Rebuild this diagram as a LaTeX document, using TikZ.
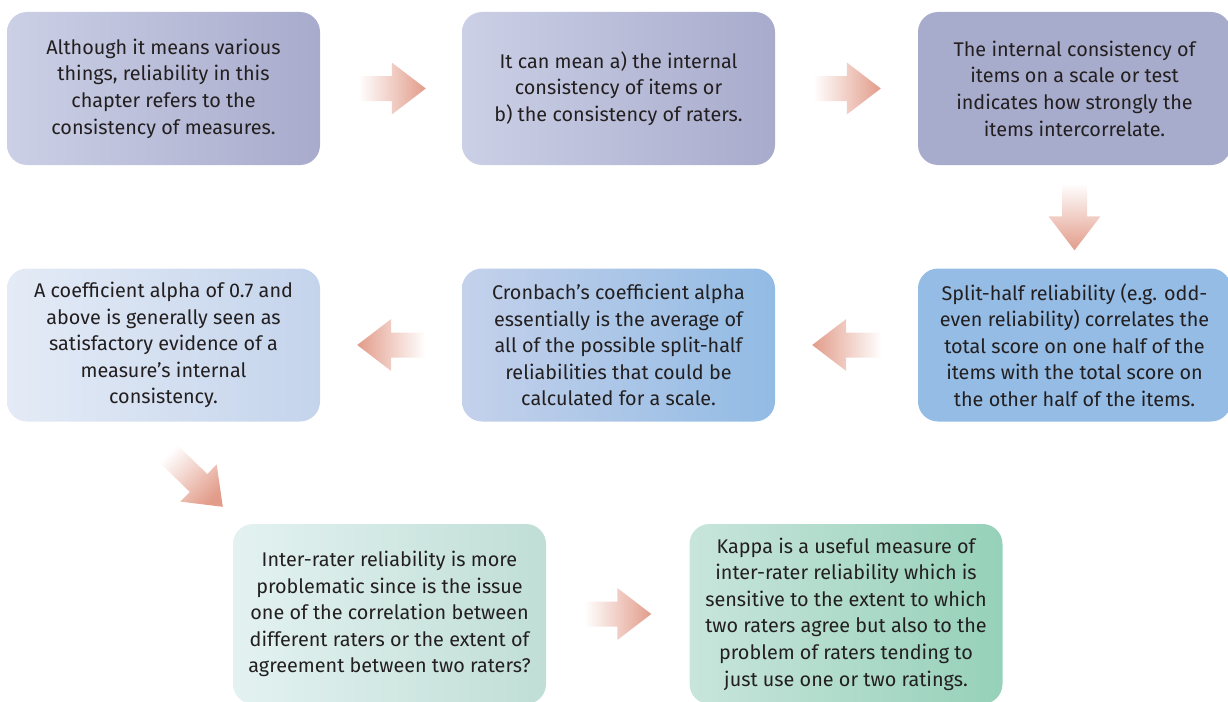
\documentclass[tikz,border=0pt]{standalone}
\usepackage{fontspec}
\setmainfont{Fira Sans}
\usetikzlibrary{calc}

\definecolor{txt}{HTML}{231F20}
\definecolor{arr}{HTML}{E29C8A}
\definecolor{violA}{HTML}{CBD0E6}
\definecolor{violB}{HTML}{A8ABCC}
\definecolor{violC}{HTML}{A8ACCC}
\definecolor{paleA}{HTML}{E4EBF6}
\definecolor{paleB}{HTML}{C4D4EC}
\definecolor{skyA}{HTML}{C4D1EB}
\definecolor{skyB}{HTML}{92BBE4}
\definecolor{skyC}{HTML}{94BCE5}
\definecolor{mintA}{HTML}{E3F2F1}
\definecolor{mintB}{HTML}{C0DED6}
\definecolor{jadeA}{HTML}{C8E5DC}
\definecolor{jadeB}{HTML}{96D1B9}

\tikzset{
  infobox/.style={rounded corners=20pt, inner sep=0pt, align=center,
    minimum width=313pt, minimum height=153pt, text=txt,
    font=\fontsize{19.8}{26.6}\selectfont},
  tallbox/.style={infobox, minimum height=180pt},
  arrR/.style={left color=white, right color=arr},
  arrL/.style={left color=arr, right color=white},
  arrD/.style={top color=white, bottom color=arr},
  arrDiag/.style={top color=white, bottom color=arr, shading angle=45},
}

% block arrow from tail #2 to tip #3, shading given by #1
\newcommand\blockarrow[3]{%
  \coordinate (hb) at ($(#3)!34pt!(#2)$);
  \path[#1] ($(#2)!12.5pt!90:(#3)$) -- ($(hb)!12.5pt!90:(#3)$)
    -- ($(hb)!26pt!90:(#3)$) -- (#3) -- ($(hb)!26pt!-90:(#3)$)
    -- ($(hb)!12.5pt!-90:(#3)$) -- ($(#2)!12.5pt!-90:(#3)$) -- cycle;
}

\begin{document}
\begin{tikzpicture}[x=1pt, y=1pt]
\useasboundingbox (0,0) rectangle (1228,-701);

% first row
\node[infobox, left color=violA, right color=violB] (b1) at (163.5,-88.5)
  {Although it means various\\things, reliability in this\\chapter refers to the\\consistency of measures.};
\node[infobox, left color=violA, right color=violB] (b2) at (618.5,-88.5)
  {It can mean a) the internal\\consistency of items or\\b) the consistency of raters.};
\node[infobox, fill=violC] (b3) at (1074.5,-88.5)
  {The internal consistency of\\items on a scale or test\\indicates how strongly the\\items intercorrelate.};

% second row
\node[infobox, left color=paleA, right color=paleB] (b4) at (163.5,-345)
  {A coefficient alpha of 0.7 and\\above is generally seen as\\satisfactory evidence of a\\measure’s internal\\consistency.};
\node[infobox, left color=skyA, right color=skyB] (b5) at (618.5,-345)
  {Cronbach’s coefficient alpha\\essentially is the average of\\all of the possible split-half\\reliabilities that could be\\calculated for a scale.};
\node[infobox, fill=skyC] (b6) at (1074.5,-345)
  {Split-half reliability (e.g. odd-\\even reliability) correlates the\\total score on one half of the\\items with the total score on\\the other half of the items.};

% third row
\node[tallbox, left color=mintA, right color=mintB] (b7) at (389.5,-614)
  {Inter-rater reliability is more\\problematic since is the issue\\one of the correlation between\\different raters or the extent of\\agreement between two raters?};
\node[tallbox, left color=jadeA, right color=jadeB] (b8) at (846,-614)
  {Kappa is a useful measure of\\inter-rater reliability which is\\sensitive to the extent to which\\two raters agree but also to the\\problem of raters tending to\\just use one or two ratings.};

% connectors
\coordinate (t1) at ($(b1.east)+(38,0)$);  \coordinate (p1) at ($(b2.west)+(-36,0)$);
\coordinate (t2) at ($(b2.east)+(38,0)$);  \coordinate (p2) at ($(b3.west)+(-37,0)$);
\coordinate (t3) at ($(b3.south)+(0,-18)$); \coordinate (p3) at ($(b6.north)+(0,18)$);
\coordinate (t4) at ($(b6.west)+(-36,0)$); \coordinate (p4) at ($(b5.east)+(37,0)$);
\coordinate (t5) at ($(b5.west)+(-36,0)$); \coordinate (p5) at ($(b4.east)+(37,0)$);
\coordinate (t6) at ($(b4.south)+(4,-31)$); \coordinate (p6) at ($(b7.north west)+(-10,17)$);
\coordinate (t7) at ($(b7.east)+(38,0)$);  \coordinate (p7) at ($(b8.west)+(-38,0)$);

\blockarrow{arrR}{t1}{p1}
\blockarrow{arrR}{t2}{p2}
\blockarrow{arrD}{t3}{p3}
\blockarrow{arrL}{t4}{p4}
\blockarrow{arrL}{t5}{p5}
\blockarrow{arrDiag}{t6}{p6}
\blockarrow{arrR}{t7}{p7}
\end{tikzpicture}
\end{document}
